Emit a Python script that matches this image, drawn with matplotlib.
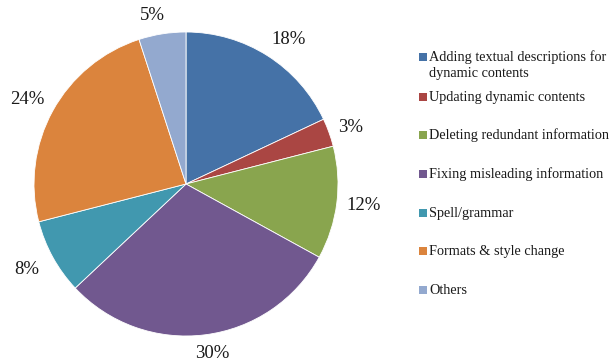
import matplotlib.pyplot as plt
from matplotlib.patches import Rectangle

# Share of edit types, clockwise from the top
labels = ["Adding textual descriptions for\ndynamic contents",
          "Updating dynamic contents",
          "Deleting redundant information",
          "Fixing misleading information",
          "Spell/grammar",
          "Formats & style change",
          "Others"]
shares = [18, 3, 12, 30, 8, 24, 5]
colors = ["#4572A7", "#AA4643", "#89A54E", "#71588F", "#4198AF", "#DB843D", "#93A9CF"]

# where each percent label sits, pixels right / down from the pie centre
label_off = [(103, -146), (165, -58), (178, 19), (26, 167), (-159, 83), (-159, -86), (-34, -170)]
# legend row centres in pixels from the top
legend_y = [57, 97, 135, 174, 213, 251, 290]

plt.rcParams["font.family"] = ["Liberation Serif", "DejaVu Serif"]

W, H = 614, 361
fig = plt.figure(figsize=(W / 100, H / 100), dpi=100)

# pie axes: centre (186, 184), radius 152 px
cx, cy, r = 186, 184, 152
ax = fig.add_axes([(cx - r) / W, (H - cy - r) / H, 2 * r / W, 2 * r / H])
wedges, texts, autotexts = ax.pie(
    shares, colors=colors, startangle=90, counterclock=False,
    autopct="%d%%", pctdistance=1.15, radius=1,
    wedgeprops=dict(edgecolor="white", linewidth=0.6),
    textprops=dict(fontsize=13.5, color="#1a1a1a"))
for t, (dx, dy) in zip(autotexts, label_off):
    # va=center puts the glyphs ~2 px high, nudge down
    t.set_position((dx / r, -(dy + 2) / r))
ax.set_xlim(-1, 1)
ax.set_ylim(-1, 1)
ax.set_aspect("auto")
ax.axis("off")

# hand-placed legend
for lab, col, y in zip(labels, colors, legend_y):
    fig.patches.append(Rectangle((419 / W, (H - y - 4) / H), 8 / W, 8 / H,
                                 transform=fig.transFigure, facecolor=col,
                                 edgecolor="none"))
    lines = lab.split("\n")
    for k, line in enumerate(lines):
        fig.text(429 / W, (H - y - 16 * k) / H, line, fontsize=10.3,
                 va="center", ha="left", color="#1a1a1a")

fig.savefig("out.png", dpi=100)
